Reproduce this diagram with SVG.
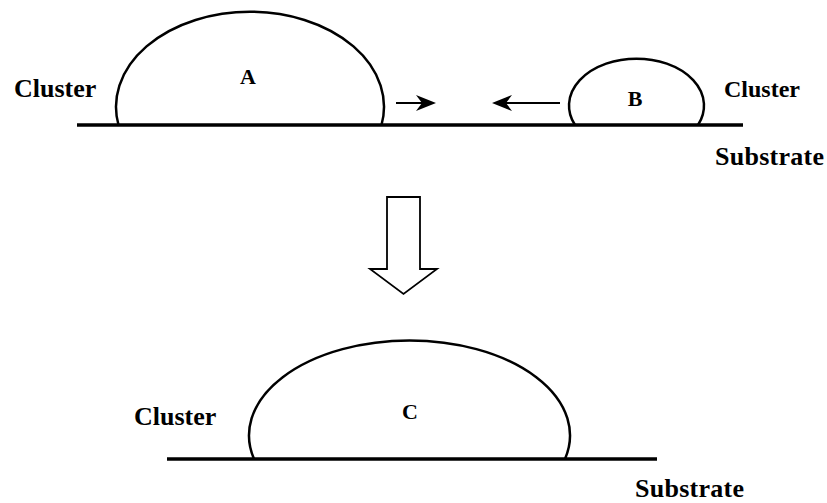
<svg xmlns="http://www.w3.org/2000/svg" width="827" height="503" viewBox="0 0 827 503">
<style>
text{font-family:'Liberation Serif','DejaVu Serif','Times New Roman',Times,serif;font-weight:bold;fill:#000}
.big{font-size:26px}
.let{font-size:22px;text-anchor:middle}
.drop{fill:none;stroke:#000;stroke-width:2.5}
.sub{stroke:#000;stroke-width:3.5}
.arr{stroke:#000;stroke-width:2;fill:none}
.hd{fill:#000;stroke:none}
</style>
<rect width="827" height="503" fill="#fff"/>
<g id="substrate-top"><line class="sub" x1="77" y1="125" x2="743" y2="125"/></g>
<g id="cluster-A">
<path class="drop" d="M118.5,125 A134,95 0 1 1 381.5,125"/>
<text class="let" x="248" y="84">A</text>
</g>
<g id="cluster-B">
<path class="drop" d="M575,125 A67.5,47 0 1 1 698,125"/>
<text class="let" x="635" y="106">B</text>
</g>
<g id="substrate-bottom"><line class="sub" x1="167" y1="459" x2="657" y2="459"/></g>
<g id="cluster-C">
<path class="drop" d="M254,459 A160.5,95 0 1 1 565,459"/>
<text class="let" x="410" y="419">C</text>
</g>
<g id="labels">
<text class="big" x="14" y="97">Cluster</text>
<text style="font-size:24px" x="724" y="97">Cluster</text>
<text class="big" x="715" y="165" textLength="109">Substrate</text>
<text class="big" x="134" y="425">Cluster</text>
<text class="big" x="635" y="497" textLength="109">Substrate</text>
</g>
<g id="connectors">
<line class="arr" x1="396" y1="103" x2="425" y2="103"/>
<path class="hd" d="M436,103 L416,95 L422,103 L416,111 Z"/>
<line class="arr" x1="560" y1="103" x2="502" y2="103"/>
<path class="hd" d="M492,103 L512,95 L506,103 L512,111 Z"/>
<path id="transition" d="M387,197 L420,197 L420,269 L437,269 L403.5,294 L370,269 L387,269 Z" fill="#fff" stroke="#000" stroke-width="1.8" stroke-linejoin="miter"/>
</g>
</svg>
